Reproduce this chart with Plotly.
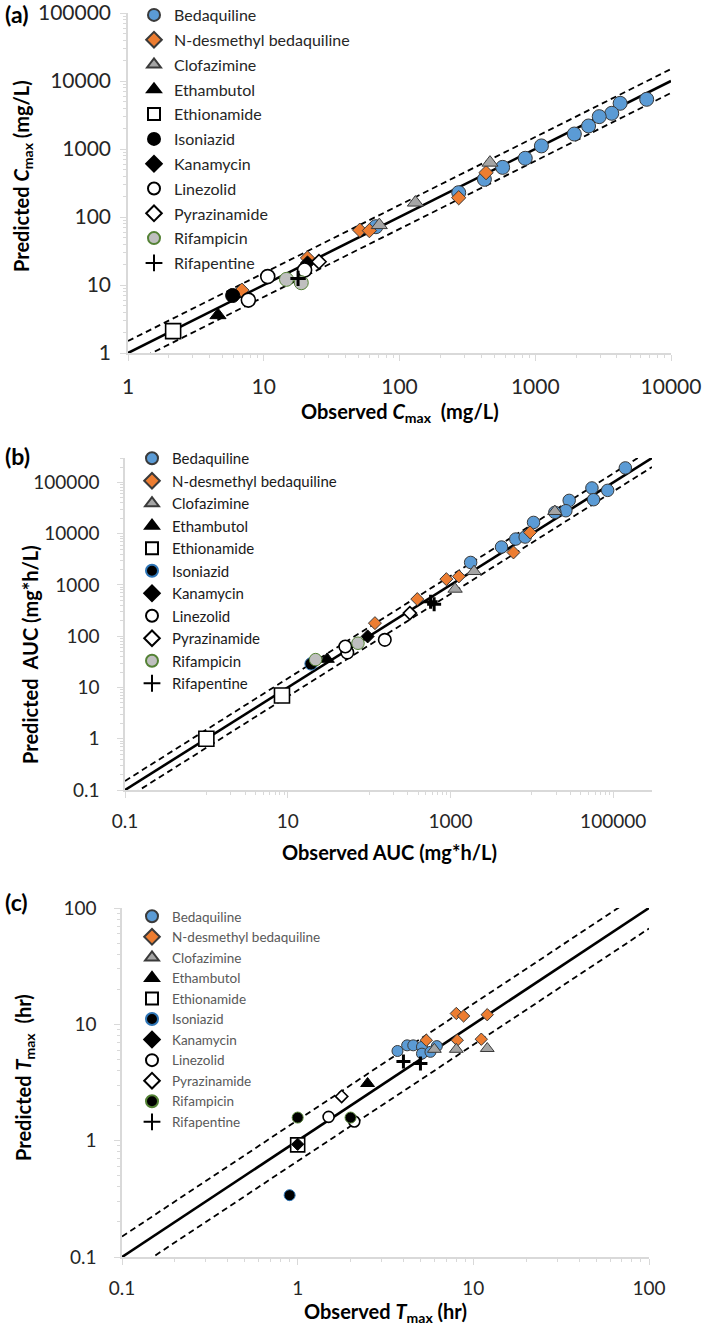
import math
import plotly.graph_objects as go

# ---------------- DATA ----------------
DRUGS = ["Bedaquiline", "N-desmethyl bedaquiline", "Clofazimine", "Ethambutol", "Ethionamide",
         "Isoniazid", "Kanamycin", "Linezolid", "Pyrazinamide", "Rifampicin", "Rifapentine"]

# Panel (a): Cmax (mg/L)  observed / predicted
cmax_obs_bedaquiline = [6620, 4220, 3660, 2960, 2470, 1940, 1110, 844, 575, 422, 273, 67]
cmax_pred_bedaquiline = [5380, 4700, 3350, 2990, 2180, 1660, 1110, 730, 537, 358, 228, 72]
cmax_obs_ndesmethyl = [434, 273, 51, 60, 21, 6.9]
cmax_pred_ndesmethyl = [449, 192, 64, 63, 25, 8.4]
cmax_obs_clofazimine = [464, 131, 71]
cmax_pred_clofazimine = [630, 163, 76]
cmax_obs_ethambutol = [4.6]
cmax_pred_ethambutol = [3.6]
cmax_obs_ethionamide = [2.15]
cmax_pred_ethionamide = [2.1]
cmax_obs_isoniazid = [5.9]
cmax_pred_isoniazid = [7.0]
cmax_obs_kanamycin = [21]
cmax_pred_kanamycin = [21]
cmax_obs_linezolid = [10.7, 7.7, 20]
cmax_pred_linezolid = [13.3, 6.0, 16.6]
cmax_obs_pyrazinamide = [25.5]
cmax_pred_pyrazinamide = [22]
cmax_obs_rifampicin = [14.7, 18.9]
cmax_pred_rifampicin = [12.1, 10.8]
cmax_obs_rifapentine = [17.9]
cmax_pred_rifapentine = [12.5]

# Panel (b): AUC (mg*h/L)
auc_obs_bedaquiline = [141000, 54800, 85500, 57400, 28800, 26200, 19200, 10500, 6350, 8280, 4240, 1770]
auc_pred_bedaquiline = [192000, 78100, 70100, 46100, 44700, 28100, 26100, 16600, 7870, 8610, 5500, 2750]
auc_obs_ndesmethyl = [9520, 5950, 1270, 890, 391, 118]
auc_pred_ndesmethyl = [10600, 4310, 1470, 1300, 530, 180]
auc_obs_clofazimine = [19200, 1950, 1140]
auc_pred_clofazimine = [27300, 1840, 832]
auc_obs_ethambutol = [30.5]
auc_pred_ethambutol = [35.7]
auc_obs_ethionamide = [1.0, 8.5]
auc_pred_ethionamide = [1.0, 7.0]
auc_obs_isoniazid = [19.4]
auc_pred_isoniazid = [28.9]
auc_obs_kanamycin = [96]
auc_pred_kanamycin = [99]
auc_obs_linezolid = [54, 51, 156]
auc_pred_linezolid = [48, 63, 85]
auc_obs_pyrazinamide = [317]
auc_pred_pyrazinamide = [283]
auc_obs_rifampicin = [22, 73]
auc_pred_rifampicin = [35, 73]
auc_obs_rifapentine = [570, 630]
auc_pred_rifapentine = [470, 420]

# Panel (c): Tmax (hr)
tmax_obs_bedaquiline = [3.7, 4.2, 4.55, 5.1, 5.1, 5.7, 6.2]
tmax_pred_bedaquiline = [5.9, 6.6, 6.6, 6.4, 5.6, 5.8, 6.5]
tmax_obs_ndesmethyl = [5.4, 8.0, 8.8, 12.0, 8.1, 11.1]
tmax_pred_ndesmethyl = [7.3, 12.4, 11.8, 12.1, 7.3, 7.45]
tmax_obs_clofazimine = [6.0, 8.0, 12.0]
tmax_pred_clofazimine = [6.1, 6.1, 6.2]
tmax_obs_ethambutol = [2.5]
tmax_pred_ethambutol = [3.1]
tmax_obs_ethionamide = [1.0]
tmax_pred_ethionamide = [0.92]
tmax_obs_isoniazid = [0.9]
tmax_pred_isoniazid = [0.34]
tmax_obs_kanamycin = [1.0]
tmax_pred_kanamycin = [0.93]
tmax_obs_linezolid = [1.5, 2.1]
tmax_pred_linezolid = [1.6, 1.46]
tmax_obs_pyrazinamide = [1.78]
tmax_pred_pyrazinamide = [2.4]
tmax_obs_rifampicin = [1.0, 2.0]
tmax_pred_rifampicin = [1.58, 1.58]
tmax_obs_rifapentine = [4.0, 5.0]
tmax_pred_rifapentine = [4.8, 4.6]

# identity-line extents and fold-range
LINE_A = [1, 10000]
LINE_B = [0.1, 300000]
LINE_C = [0.1, 100]
FOLD = 1.5

# axis ranges (data units) and tick labels
RANGE_A_X = [1, 10000]
RANGE_A_Y = [1, 100000]
RANGE_B = [0.1, 300000]
RANGE_C = [0.1, 100]
TICKS_A_X = [1, 10, 100, 1000, 10000]
TICKS_A_Y = [1, 10, 100, 1000, 10000, 100000]
TICKS_B_X = [0.1, 10, 1000, 100000]
TICKS_B_Y = [0.1, 1, 10, 100, 1000, 10000, 100000]
TICKS_C = [0.1, 1, 10, 100]

# ---------------- assemble ----------------
PANEL_DATA = {
    "a": [(cmax_obs_bedaquiline, cmax_pred_bedaquiline), (cmax_obs_ndesmethyl, cmax_pred_ndesmethyl),
          (cmax_obs_clofazimine, cmax_pred_clofazimine), (cmax_obs_ethambutol, cmax_pred_ethambutol),
          (cmax_obs_ethionamide, cmax_pred_ethionamide), (cmax_obs_isoniazid, cmax_pred_isoniazid),
          (cmax_obs_kanamycin, cmax_pred_kanamycin), (cmax_obs_linezolid, cmax_pred_linezolid),
          (cmax_obs_pyrazinamide, cmax_pred_pyrazinamide), (cmax_obs_rifampicin, cmax_pred_rifampicin),
          (cmax_obs_rifapentine, cmax_pred_rifapentine)],
    "b": [(auc_obs_bedaquiline, auc_pred_bedaquiline), (auc_obs_ndesmethyl, auc_pred_ndesmethyl),
          (auc_obs_clofazimine, auc_pred_clofazimine), (auc_obs_ethambutol, auc_pred_ethambutol),
          (auc_obs_ethionamide, auc_pred_ethionamide), (auc_obs_isoniazid, auc_pred_isoniazid),
          (auc_obs_kanamycin, auc_pred_kanamycin), (auc_obs_linezolid, auc_pred_linezolid),
          (auc_obs_pyrazinamide, auc_pred_pyrazinamide), (auc_obs_rifampicin, auc_pred_rifampicin),
          (auc_obs_rifapentine, auc_pred_rifapentine)],
    "c": [(tmax_obs_bedaquiline, tmax_pred_bedaquiline), (tmax_obs_ndesmethyl, tmax_pred_ndesmethyl),
          (tmax_obs_clofazimine, tmax_pred_clofazimine), (tmax_obs_ethambutol, tmax_pred_ethambutol),
          (tmax_obs_ethionamide, tmax_pred_ethionamide), (tmax_obs_isoniazid, tmax_pred_isoniazid),
          (tmax_obs_kanamycin, tmax_pred_kanamycin), (tmax_obs_linezolid, tmax_pred_linezolid),
          (tmax_obs_pyrazinamide, tmax_pred_pyrazinamide), (tmax_obs_rifampicin, tmax_pred_rifampicin),
          (tmax_obs_rifapentine, tmax_pred_rifapentine)],
}

W, H = 709, 1325
FONT = "Lato"
AX_COL = "#d9d9d9"
TXT = "#262626"

BLUE, ORANGE, GREY, LGREY = "#5B9BD5", "#ED7D31", "#A5A5A5", "#BFBFBF"
DARK = "#3a3a3a"
GREEN = "#548235"
IBLUE = "#2E75B6"

# per-panel marker styles: (symbol, fill, outline, outline width, size)
def styles(p):
    sz = {"a": dict(c=14, d=11, t=14, s=15, x=11),
          "b": dict(c=12.5, d=10, t=12.5, s=15, x=10),
          "c": dict(c=11, d=9.5, t=12, s=14, x=10)}[p]
    iso_line = "#000000" if p == "a" else IBLUE
    rif_fill = LGREY if p != "c" else "#000000"
    return [
        ("circle", BLUE, DARK, 1, sz["c"]),
        ("diamond", ORANGE, DARK, 1, sz["d"]),
        ("triangle-up", GREY, DARK, 1, sz["t"]),
        ("triangle-up", "#000000", "#000000", 1, sz["t"]),
        ("square", "#ffffff", "#000000", 1.6, sz["s"]),
        ("circle", "#000000", iso_line, 1, sz["c"]),
        ("diamond", "#000000", "#000000", 1, sz["d"]),
        ("circle", "#ffffff", "#000000", 1.6, sz["c"]),
        ("diamond", "#ffffff", "#000000", 1.6, sz["d"]),
        ("circle", rif_fill, GREEN, 1, sz["c"]),
        ("cross-thin", "#000000", "#000000", 3, sz["x"]),
    ]

# plot-area pixel boxes (left, right, top, bottom)
BOX = {"a": (128, 671, 13, 353), "b": (125, 652, 458, 790), "c": (122, 649, 908, 1257)}

def xd(p):
    l, r, t, b = BOX[p]
    return [l / W, r / W]

def yd(p):
    l, r, t, b = BOX[p]
    return [1 - b / H, 1 - t / H]

fig = go.Figure()
axmap = {"a": ("x", "y"), "b": ("x2", "y2"), "c": ("x3", "y3")}
legmap = {"a": "legend", "b": "legend2", "c": "legend3"}
lines = {"a": LINE_A, "b": LINE_B, "c": LINE_C}

for p in ["a", "b", "c"]:
    xa, ya = axmap[p]
    lo, hi = lines[p]
    fig.add_trace(go.Scatter(x=[lo, hi], y=[lo * FOLD, hi * FOLD], mode="lines",
                             line=dict(color="#000", width=1.8, dash="6px,4px"),
                             xaxis=xa, yaxis=ya, showlegend=False, hoverinfo="skip"))
    fig.add_trace(go.Scatter(x=[lo, hi], y=[lo / FOLD, hi / FOLD], mode="lines",
                             line=dict(color="#000", width=1.8, dash="6px,4px"),
                             xaxis=xa, yaxis=ya, showlegend=False, hoverinfo="skip"))
    fig.add_trace(go.Scatter(x=[lo, hi], y=[lo, hi], mode="lines",
                             line=dict(color="#000", width=2.6),
                             xaxis=xa, yaxis=ya, showlegend=False, hoverinfo="skip"))
    for name, (obs, pred), (sym, fill, oc, ow, size) in zip(DRUGS, PANEL_DATA[p], styles(p)):
        fig.add_trace(go.Scatter(
            x=obs, y=pred, mode="markers", name=name,
            marker=dict(symbol=sym, color=fill, size=size, line=dict(color=oc, width=ow)),
            xaxis=xa, yaxis=ya, legend=legmap[p], legendgroup=p + name))

def minor_vals(lo_exp, hi_exp, vmax):
    vals = []
    for e in range(lo_exp, hi_exp + 1):
        for k in range(2, 10):
            v = k * 10 ** e
            if v <= vmax * 1.0001:
                vals.append(v)
    return vals

def fmt(v):
    return ("%g" % v)

def axis(domain, rng, ticks, tfs, standoff, minor):
    return dict(domain=domain, type="log", range=[math.log10(rng[0]), math.log10(rng[1])],
                automargin=False, ticklabeloverflow="allow",
                tickmode="array", tickvals=ticks, ticktext=[fmt(v) for v in ticks],
                showline=True, linecolor=AX_COL, linewidth=1.5, showgrid=False, zeroline=False,
                ticks="outside", ticklen=6, tickwidth=1.2, tickcolor=AX_COL,
                tickfont=dict(family=FONT, size=tfs, color=TXT), ticklabelstandoff=standoff,
                minor=dict(tickmode="array", tickvals=minor, ticks="outside", ticklen=3,
                           tickcolor=AX_COL, tickwidth=1, showgrid=False))

# minor ticks for panel (b) x: 1..9 x 10^even
b_xminor = []
for e in [0, 2, 4]:
    for k in range(1, 10):
        b_xminor.append(k * 10 ** e)

fig.update_layout(
    xaxis=axis(xd("a"), RANGE_A_X, TICKS_A_X, 21, 8, minor_vals(0, 3, 10000)),
    yaxis=axis(yd("a"), RANGE_A_Y, TICKS_A_Y, 21, 5, minor_vals(0, 4, 100000)),
    xaxis2=axis(xd("b"), RANGE_B, TICKS_B_X, 19, 7, b_xminor),
    yaxis2=axis(yd("b"), RANGE_B, TICKS_B_Y, 19, 14, minor_vals(-1, 5, 300000)),
    xaxis3=axis(xd("c"), RANGE_C, TICKS_C, 19, 7, minor_vals(-1, 1, 100)),
    yaxis3=axis(yd("c"), RANGE_C, TICKS_C, 19, 14, minor_vals(-1, 1, 100)),
)
fig.layout.xaxis.anchor = "y"
fig.layout.yaxis.anchor = "x"
fig.layout.xaxis2.anchor = "y2"
fig.layout.yaxis2.anchor = "x2"
fig.layout.xaxis3.anchor = "y3"
fig.layout.yaxis3.anchor = "x3"

def legend(xpx, ytop, size, color, gap):
    return dict(x=xpx / W, y=1 - ytop / H, xanchor="left", yanchor="top",
                bgcolor="rgba(0,0,0,0)", borderwidth=0, itemsizing="constant",
                font=dict(family=FONT, size=size, color=color), tracegroupgap=gap,
                itemwidth=30)

fig.update_layout(
    legend=legend(134, -2, 16, TXT, 1),
    legend2=legend(132, 442, 15, "#1a1a1a", 0),
    legend3=legend(132, 901, 13.5, "#595959", 0),
)

ann = []
def title(text, xpx, ypx, angle=0):
    ann.append(dict(text=text, x=xpx / W, y=1 - ypx / H, xref="paper", yref="paper",
                    showarrow=False, textangle=angle, xanchor="center", yanchor="middle",
                    font=dict(family=FONT, size=20, color="#000")))

title("<b>Predicted <i>C</i><sub>max</sub> (mg/L)</b>", 22, 176, -90)
title("<b>Observed <i>C</i><sub>max</sub>  (mg/L)</b>", 400, 412)
title("<b>Predicted  AUC (mg*h/L)</b>", 30, 655, -90)
title("<b>Observed AUC (mg*h/L)</b>", 389, 852)
title("<b>Predicted <i>T</i><sub>max</sub>  (hr)</b>", 24, 1078, -90)
title("<b>Observed <i>T</i><sub>max</sub> (hr)</b>", 385, 1312)
for lab, ypx in [("(a)", 14), ("(b)", 456), ("(c)", 902)]:
    ann.append(dict(text="<b>%s</b>" % lab, x=3 / W, y=1 - ypx / H, xref="paper", yref="paper",
                    showarrow=False, xanchor="left", yanchor="middle",
                    font=dict(family=FONT, size=23, color="#000")))

fig.update_layout(annotations=ann, width=W, height=H,
                  margin=dict(l=0, r=0, t=0, b=0, autoexpand=False),
                  paper_bgcolor="#ffffff", plot_bgcolor="#ffffff",
                  font=dict(family=FONT))

fig.write_html("out.html", config={"displayModeBar": False},
               post_script="document.body.style.margin='0px';document.body.style.padding='0px';")
